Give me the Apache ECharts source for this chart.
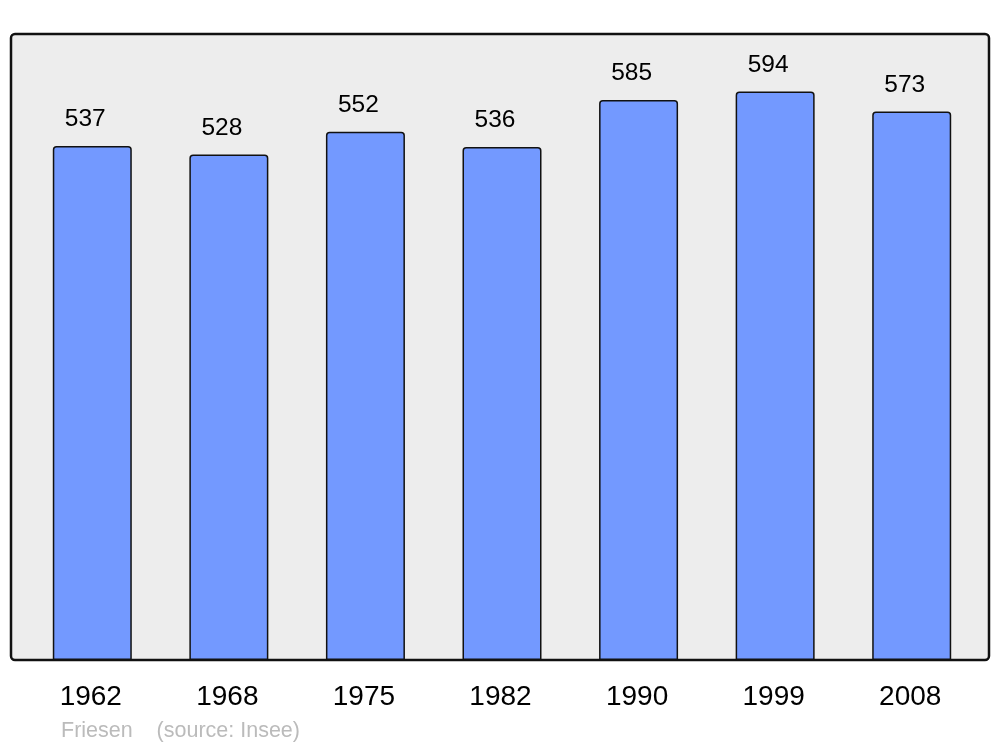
<!DOCTYPE html>
<html>
<head>
<meta charset="utf-8">
<script src="https://cdn.jsdelivr.net/npm/echarts@6/dist/echarts.min.js"></script>
<style>
  html, body { margin: 0; padding: 0; background: #fff; }
</style>
</head>
<body>
<div id="chart" style="width: 1000px; height: 747px"></div>
<script>
// population par recensement
const years = ['1962', '1968', '1975', '1982', '1990', '1999', '2008']
const population = [537, 528, 552, 536, 585, 594, 573]

const chart = echarts.init(document.getElementById('chart'))

const option = {
  animation: false,
  textStyle: { fontFamily: 'Liberation Sans, Arial, sans-serif' },
  grid: {
    left: 24,
    right: 20,
    top: 34,
    bottom: 87
  },
  graphic: [
    {
      type: 'rect',
      z: -10,
      shape: { x: 11, y: 34, width: 978, height: 626, r: 4 },
      style: { fill: '#ededed', stroke: '#111', lineWidth: 2.5 }
    },
    {
      type: 'text',
      left: 61,
      top: 720,
      style: {
        text: 'Friesen    (source: Insee)',
        fill: '#bbbbbb',
        font: '21.5px Liberation Sans, Arial, sans-serif'
      }
    }
  ],
  xAxis: {
    type: 'category',
    data: years,
    axisLine: { show: false },
    axisTick: { show: false },
    axisLabel: {
      color: '#000',
      fontSize: 28,
      margin: 23,
      padding: [0, 3, 0, 0]
    }
  },
  yAxis: {
    type: 'value',
    min: 0,
    max: 654,
    show: false,
    splitLine: { show: false }
  },
  series: [
    {
      type: 'bar',
      data: population,
      barWidth: 79,
      itemStyle: {
        color: '#7399ff',
        borderColor: '#111',
        borderWidth: 1.5,
        borderRadius: [3, 3, 0, 0]
      },
      label: {
        show: true,
        position: 'top',
        distance: 14,
        offset: [-7, 0],
        color: '#000',
        fontSize: 24.5
      }
    }
  ]
}

chart.setOption(option)
</script>
</body>
</html>
